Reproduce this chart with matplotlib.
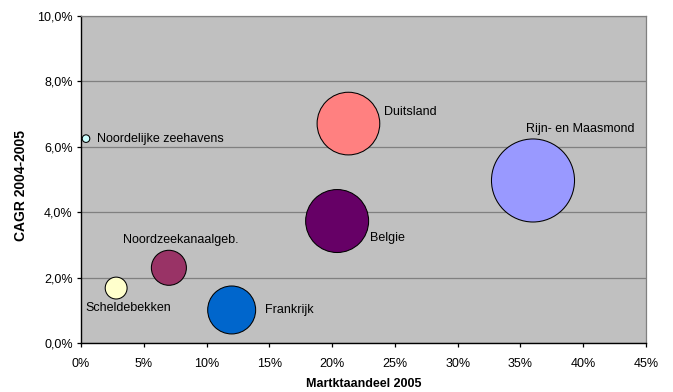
import matplotlib
matplotlib.use("Agg")
import matplotlib.pyplot as plt
from matplotlib.ticker import FuncFormatter, MultipleLocator

plt.rcParams['font.family'] = ['Liberation Sans', 'DejaVu Sans']

regions = ["Noordelijke zeehavens", "Scheldebekken", "Noordzeekanaalgeb.",
           "Frankrijk", "Duitsland", "Belgie", "Rijn- en Maasmond"]
market_share = [0.4, 2.8, 7.0, 12.0, 21.3, 20.4, 36.0]   # % (x)
cagr = [6.25, 1.68, 2.30, 1.01, 6.71, 3.73, 4.97]          # % (y)
bubble_size = [0.3, 2.5, 6.4, 12.0, 20.5, 20.7, 36.0]     # relative bubble areas
colors = ["#CCFFFF", "#FFFFCC", "#993366", "#0066CC", "#FF8080", "#660066", "#9999FF"]

# label offsets in points, alignment
label_style = {
    "Noordelijke zeehavens": ((7.9, 0), "left"),
    "Scheldebekken": ((8.9, -14.4), "center"),
    "Noordzeekanaalgeb.": ((8.6, 20.0), "center"),
    "Frankrijk": ((24.3, 0), "left"),
    "Duitsland": ((25.7, 8.4), "left"),
    "Belgie": ((23.5, -12.2), "left"),
    "Rijn- en Maasmond": ((-5.3, 36.9), "left"),
}

fig = plt.figure(figsize=(6.73, 3.92), dpi=100)
ax = fig.add_axes([81/673, 49/392, 565/673, 327/392])
ax.set_facecolor("#C0C0C0")

scale = 3575 / 36.0
ax.scatter(market_share, cagr, s=[b * scale for b in bubble_size], c=colors,
           edgecolors="black", linewidths=0.75, zorder=3)

for name, x, y in zip(regions, market_share, cagr):
    (dx, dy), ha = label_style[name]
    ax.annotate(name, (x, y), xytext=(dx, dy), textcoords="offset points",
                ha=ha, va="center", fontsize=9, color="black", zorder=4)

ax.set_xlim(0, 45)
ax.set_ylim(0, 10)
ax.xaxis.set_major_locator(MultipleLocator(5))
ax.yaxis.set_major_locator(MultipleLocator(2))
ax.xaxis.set_major_formatter(FuncFormatter(lambda v, p: f"{v:.0f}%"))
ax.yaxis.set_major_formatter(FuncFormatter(lambda v, p: f"{v:.1f}%".replace(".", ",")))
ax.grid(axis="y", color="#808080", linewidth=0.9, zorder=1)
ax.set_axisbelow(True)

for side in ["top", "right"]:
    ax.spines[side].set_color("#808080")
    ax.spines[side].set_linewidth(0.9)
for side in ["left", "bottom"]:
    ax.spines[side].set_color("black")
    ax.spines[side].set_linewidth(1.0)

ax.tick_params(axis="both", direction="out", length=3, width=0.9, labelsize=9)
ax.tick_params(axis="x", pad=8)
ax.tick_params(axis="y", pad=3)

ax.set_xlabel("Martktaandeel 2005", fontsize=9, fontweight="bold")
ax.set_ylabel("CAGR 2004-2005", fontsize=10, fontweight="bold")
ax.xaxis.set_label_coords(0.5, -0.106)
ax.yaxis.set_label_coords(-0.094, 0.483)

fig.savefig("out.png", dpi=100)
